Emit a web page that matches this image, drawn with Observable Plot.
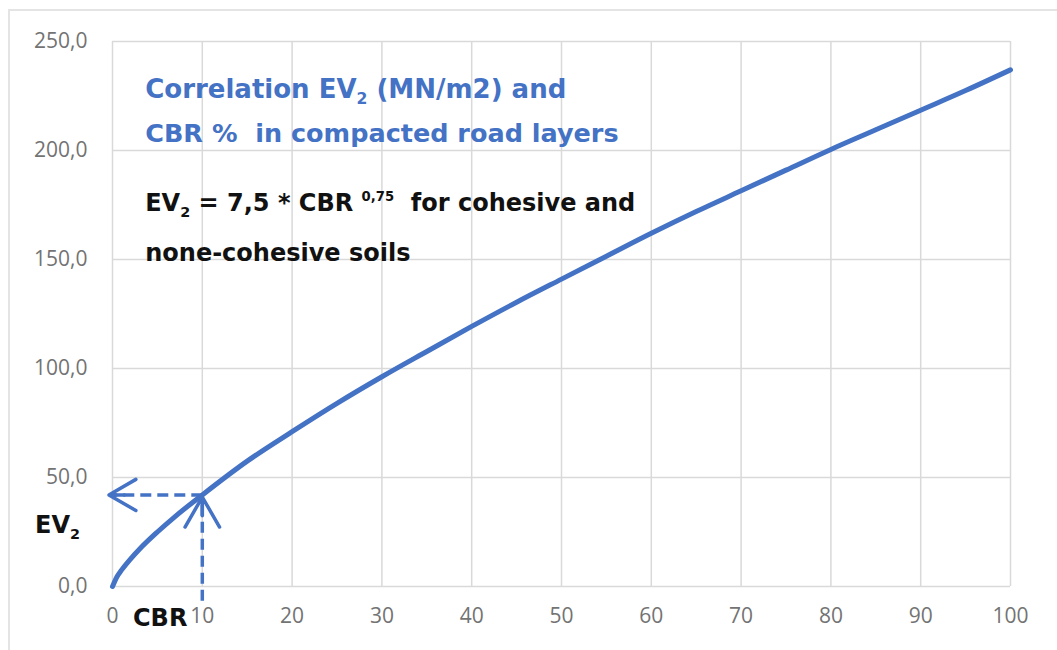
<!DOCTYPE html>
<html><head><meta charset="utf-8">
<script src="https://cdn.jsdelivr.net/npm/d3@7"></script>
<script src="https://cdn.jsdelivr.net/npm/@observablehq/plot@0.6"></script>
<style>
body{margin:0;background:#fff;}
#wrap{position:relative;width:1057px;height:650px;overflow:hidden;}
#border{position:absolute;left:8px;top:9px;width:1080px;height:680px;border:2px solid #e4e4e4;box-sizing:border-box;}
#wrap svg{position:absolute;left:0;top:0;}
</style></head><body><div id="wrap"><div id="border"></div></div>
<script>
// Values
const cbr = [0, 0.5, 1, 2, 3, 5, 7, 10, 15, 20, 25, 30, 35, 40, 45, 50, 55, 60, 65, 70, 75, 80, 85, 90, 95, 100];
const ev2 = [0, 4.5, 7.5, 12.6, 17.1, 25, 32.2, 42, 57.5, 71, 84, 96.2, 107.8, 119.3, 130.4, 141, 151.5, 162, 172, 181.5, 191, 200.5, 209.5, 218.5, 227.5, 237];
const xTicks = [0, 10, 20, 30, 40, 50, 60, 70, 80, 90, 100];
const yTicks = [0, 50, 100, 150, 200, 250];
const readCBR = 10;
const readEV2 = 42;

const curve = cbr.map((c, i) => ({cbr: c, ev2: ev2[i]}));
const blue = "#4472C4";
const grid = "#d9d9d9";
const tickColor = "#737373";
const noteFont = "DejaVu Sans, sans-serif";

const hArrow = [{x1: readCBR, y1: readEV2, x2: -0.4, y2: readEV2}];
const vArrow = [{x1: readCBR, y1: -6.5, x2: readCBR, y2: readEV2 - 1}];

const plot = Plot.plot({
  width: 1057,
  height: 650,
  marginLeft: 112,
  marginRight: 47,
  marginTop: 41,
  marginBottom: 64,
  style: {fontFamily: "Open Sans, sans-serif", background: "transparent", overflow: "visible"},
  x: {domain: [0, 100]},
  y: {domain: [0, 250]},
  marks: [
    Plot.gridX(xTicks, {stroke: grid, strokeOpacity: 1, strokeWidth: 1.5}),
    Plot.gridY(yTicks, {stroke: grid, strokeOpacity: 1, strokeWidth: 1.5}),
    Plot.axisX(xTicks, {tickSize: 0, tickPadding: 22, fontSize: 21, fill: tickColor, label: null}),
    Plot.axisY(yTicks, {tickSize: 0, tickPadding: 25, fontSize: 21, fill: tickColor, label: null,
      tickFormat: d => d.toFixed(1).replace(".", ",")}),
    Plot.line(curve, {x: "cbr", y: "ev2", stroke: blue, strokeWidth: 5, curve: "monotone-x"}),
    Plot.link(hArrow, {x1: "x1", y1: "y1", x2: "x2", y2: "y2", stroke: blue, strokeWidth: 3.5, strokeDasharray: "11,6"}),
    Plot.link(vArrow, {x1: "x1", y1: "y1", x2: "x2", y2: "y2", stroke: blue, strokeWidth: 3.5, strokeDasharray: "11,6"}),
    Plot.arrow(hArrow, {x1: "x1", y1: "y1", x2: "x2", y2: "y2", stroke: blue, strokeWidth: 3.5, headLength: 28, headAngle: 60, insetStart: 78}),
    Plot.arrow(vArrow, {x1: "x1", y1: "y1", x2: "x2", y2: "y2", stroke: blue, strokeWidth: 3.5, headLength: 28, headAngle: 60, insetStart: 85})
  ]
});
document.getElementById("wrap").appendChild(plot);

const sx = plot.scale("x"), sy = plot.scale("y");
const svg = d3.select(plot);

function rich(xv, yv, parts, opts) {
  const t = svg.append("text")
    .attr("x", typeof xv === "number" ? sx.apply(xv) : xv.px)
    .attr("y", typeof yv === "number" ? sy.apply(yv) : yv.px)
    .attr("text-anchor", "start")
    .attr("font-family", noteFont)
    .attr("font-weight", opts.weight || 700)
    .attr("font-size", opts.size)
    .attr("fill", opts.fill)
    .style("white-space", "pre");
  parts.forEach(p => {
    const [txt, kind] = Array.isArray(p) ? p : [p, null];
    const ts = t.append("tspan").text(txt);
    if (kind === "sub") { ts.attr("font-size", opts.size * 0.6).attr("dy", opts.size * 0.25); }
    else if (kind === "sup") { ts.attr("font-size", opts.size * 0.55).attr("dy", -opts.size * 0.42); }
    else if (kind === "back-sub") { ts.attr("dy", -opts.size * 0.25); }
    else if (kind === "back-sup") { ts.attr("dy", opts.size * 0.42); }
  });
  return t;
}

rich(3.7, 224, ["Correlation EV", ["2", "sub"], [" (MN/m2) and", "back-sub"]], {size: 26, fill: blue});
rich(3.7, 203.5, ["CBR %  in compacted road layers"], {size: 25.5, fill: blue});
rich(3.7, 172, ["EV", ["2", "sub"], [" = 7,5 * CBR ", "back-sub"], ["0,75", "sup"], ["  for cohesive and", "back-sup"]], {size: 24, fill: "#111"});
rich(3.7, 149, ["none-cohesive soils"], {size: 24, fill: "#111"});
rich({px: 35}, {px: 533}, ["EV", ["2", "sub"]], {size: 24, fill: "#111"});
rich({px: 133}, {px: 626}, ["CBR"], {size: 24, fill: "#111"});
</script></body></html>
